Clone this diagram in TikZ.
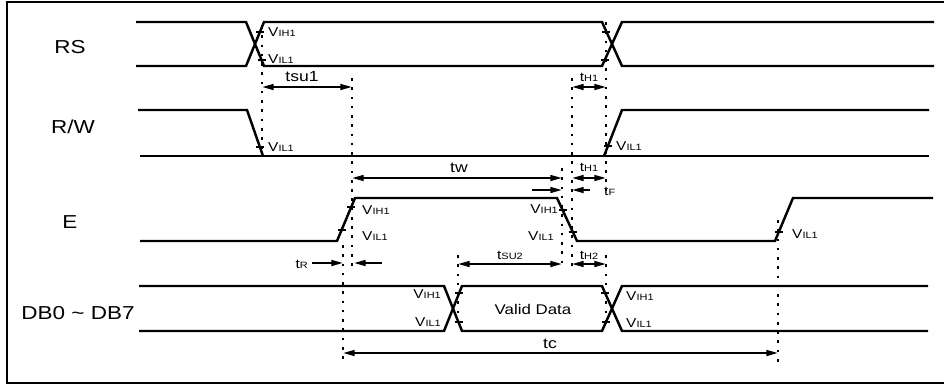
\documentclass[tikz,border=0pt]{standalone}
\usepackage{fontspec}
\setmainfont{Liberation Sans}[FakeStretch=1.2]
\usetikzlibrary{arrows.meta}

% small raised-free index text for levels and times
\newcommand{\lvlsub}[1]{V{\fontsize{7.8}{9}\selectfont #1}}
\newcommand{\tmsub}[1]{t{\fontsize{7.8}{9}\selectfont #1}}

\begin{document}
\begin{tikzpicture}[x=0.03cm, y=-0.03cm,
  sig/.style={line width=2.1pt, line join=miter},
  guide/.style={line width=2.3pt, dash pattern=on 2.3pt off 5.6pt},
  tick/.style={line width=1.7pt},
  dim/.style={line width=1.7pt, {Triangle[length=10pt,width=5pt]}-{Triangle[length=10pt,width=5pt]}},
  arr/.style={line width=1.7pt, -{Triangle[length=10pt,width=5pt]}},
  signame/.style={font=\fontsize{16}{19}\selectfont},
  lvl/.style={font=\fontsize{11}{13}\selectfont, inner sep=0pt},
  tlab/.style={font=\fontsize{12.5}{15}\selectfont, inner sep=0pt},
  tsm/.style={font=\fontsize{11}{13}\selectfont, inner sep=0pt}]

  % Fix the page size to the picture
  \useasboundingbox (0,0) rectangle (944,385);

  % Draw the frame (open on the right)
  \draw[line width=1.9pt] (944,2) -- (7,2) -- (7,383) -- (944,383);

  % Define the x positions of the guide lines
  \def\xa{262} \def\xb{343} \def\xc{352} \def\xd{458}
  \def\xe{562} \def\xf{572} \def\xg{606} \def\xh{778}

  % Signal names
  \node[signame] (rs) at (70,47) {RS};
  \node[signame] (rw) at (73,127) {R/W};
  \node[signame] (e) at (70,222) {E};
  \node[signame] (db) at (78,313) {DB0 \textasciitilde\ DB7};

  % RS waveform
  \draw[sig] (136,22) -- (246,22) -- (264,66) -- (602,66) -- (622,22) -- (934,22);
  \draw[sig] (136,66) -- (246,66) -- (264,22) -- (602,22) -- (622,66) -- (934,66);

  % R/W waveform
  \draw[sig] (138,110) -- (247,110) -- (263,156);
  \draw[sig] (140,156) -- (929,156);
  \draw[sig] (604,156) -- (622,110) -- (929,110);

  % E waveform
  \draw[sig] (140,241) -- (337,241) -- (355,198) -- (557,198) -- (577,241)
    -- (775,241) -- (793,198) -- (933,198);

  % DB0 ~ DB7 waveform
  \draw[sig] (139,286) -- (444,286) -- (462,331) -- (602,331) -- (622,286) -- (928,286);
  \draw[sig] (139,331) -- (444,331) -- (462,286) -- (602,286) -- (622,331) -- (928,331);
  \node[font=\fontsize{12}{14}\selectfont] (valid) at (533,309) {Valid Data};

  % Level ticks on the edges
  \foreach \p in {(260,32),(261.5,60),(606,32),(604.5,60),
                  (260,147),(608,146),
                  (342,230),(351,207),(562.5,210),(572.5,232),(779,232),
                  (459,293),(458.5,322),(605,293),(606,322)}
    \draw[tick] \p ++(-4,0) -- ++(8,0);

  % Level labels
  \node[lvl, anchor=west] (rsh) at (268,32) {\lvlsub{IH1}};
  \node[lvl, anchor=west] (rsl) at (268,59) {\lvlsub{IL1}};
  \node[lvl, anchor=west] (rwl1) at (268,147) {\lvlsub{IL1}};
  \node[lvl, anchor=west] (rwl2) at (616,146) {\lvlsub{IL1}};
  \node[lvl, anchor=west] (eh1) at (362,210) {\lvlsub{IH1}};
  \node[lvl, anchor=west] (el1) at (362,236) {\lvlsub{IL1}};
  \node[lvl, anchor=east] (eh2) at (558,209) {\lvlsub{IH1}};
  \node[lvl, anchor=east] (el2) at (554,236) {\lvlsub{IL1}};
  \node[lvl, anchor=west] (el3) at (792,234) {\lvlsub{IL1}};
  \node[lvl, anchor=east] (dbh1) at (441,294) {\lvlsub{IH1}};
  \node[lvl, anchor=east] (dbl1) at (441,322) {\lvlsub{IL1}};
  \node[lvl, anchor=west] (dbh2) at (626,296) {\lvlsub{IH1}};
  \node[lvl, anchor=west] (dbl2) at (626,323) {\lvlsub{IL1}};

  % Dotted guide lines
  \draw[guide] (\xa,26) -- (\xa,150);
  \draw[guide] (\xc,78) -- (\xc,268);
  \draw[guide] (\xf,78) -- (\xf,268);
  \draw[guide] (\xg,22) -- (\xg,196);
  \draw[guide] (\xe,168) -- (\xe,268);
  \draw[guide] (\xb,245) -- (\xb,362);
  \draw[guide] (\xd,255) -- (\xd,322);
  \draw[guide] (\xg,255) -- (\xg,322);
  \draw[guide] (\xh,220) -- (\xh,362);

  % Define the ends of the timing arrows
  \coordinate (su1L) at (\xa,87);  \coordinate (su1R) at (\xc,87);
  \coordinate (h1aL) at (\xf,87);  \coordinate (h1aR) at (\xg,87);
  \coordinate (twL) at (\xc,178);  \coordinate (twR) at (\xe,178);
  \coordinate (h1bL) at (\xf,178); \coordinate (h1bR) at (\xg,178);
  \coordinate (tfA) at (532,190);  \coordinate (tfB) at (\xe,190);
  \coordinate (tfC) at (590,190);  \coordinate (tfD) at (\xf,190);
  \coordinate (trA) at (312,263);  \coordinate (trB) at (\xb,263);
  \coordinate (trC) at (382,263);  \coordinate (trD) at (354,263);
  \coordinate (su2L) at (\xd,264); \coordinate (su2R) at (\xe,264);
  \coordinate (h2L) at (\xf,264);  \coordinate (h2R) at (\xg,264);
  \coordinate (tcL) at (\xb,353);  \coordinate (tcR) at (\xh,353);

  % Timing arrows
  \draw[dim] (su1L) -- (su1R);
  \draw[dim] (h1aL) -- (h1aR);
  \draw[dim] (twL) -- (twR);
  \draw[dim] (h1bL) -- (h1bR);
  \draw[arr] (tfA) -- (tfB);
  \draw[arr] (tfC) -- (tfD);
  \draw[arr] (trA) -- (trB);
  \draw[arr] (trC) -- (trD);
  \draw[dim] (su2L) -- (su2R);
  \draw[dim] (h2L) -- (h2R);
  \draw[dim] (tcL) -- (tcR);

  % Timing labels
  \node[tlab] (tsu1) at (302,77) {tsu1};
  \node[tsm] (th1a) at (589,77) {\tmsub{H1}};
  \node[tlab] (tw) at (459,168) {tw};
  \node[tsm] (th1b) at (589,167) {\tmsub{H1}};
  \node[tsm, anchor=west] (tf) at (604,191) {\tmsub{F}};
  \node[tsm, anchor=east] (tr) at (308,264) {\tmsub{R}};
  \node[tsm] (tsu2) at (510,255) {\tmsub{SU2}};
  \node[tsm] (th2) at (589,255) {\tmsub{H2}};
  \node[tlab] (tc) at (550,344) {tc};

\end{tikzpicture}
\end{document}
